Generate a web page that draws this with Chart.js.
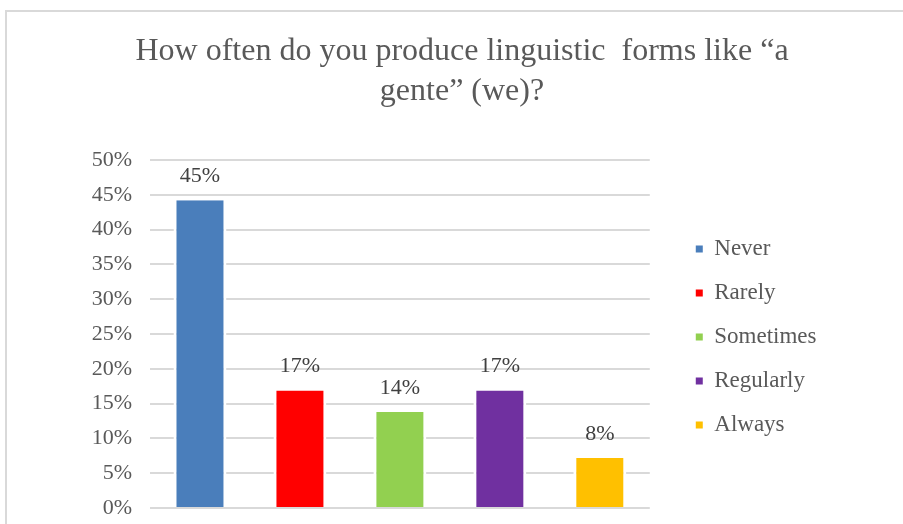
<!DOCTYPE html>
<html>
<head>
<meta charset="utf-8">
<script src="https://cdn.jsdelivr.net/npm/chart.js@4/dist/chart.umd.min.js"></script>
<style>
  html, body { margin: 0; padding: 0; background: #fff; overflow: hidden; }
  #wrap { position: relative; width: 903px; height: 524px; overflow: hidden; }
  #frame { position: absolute; left: 5px; top: 10px; width: 1000px; height: 700px; border: 2px solid #d9d9d9; box-sizing: border-box; }
  #c { position: absolute; left: 0; top: 0; }
</style>
</head>
<body>
<div id="wrap">
  <div id="frame"></div>
  <canvas id="c" width="903" height="524"></canvas>
</div>
<script>
const titleLines = ['How often do you produce linguistic  forms like \u201ca', 'gente\u201d (we)?'];
const categories = ['Never', 'Rarely', 'Sometimes', 'Regularly', 'Always'];
const values = [44.2, 16.9, 13.8, 16.9, 7.2];
const valueLabels = ['45%', '17%', '14%', '17%', '8%'];
const colors = ['#4a7ebb', '#ff0000', '#92d050', '#7030a0', '#ffc000'];
const yTicks = [0, 5, 10, 15, 20, 25, 30, 35, 40, 45, 50];

const SERIF = '"Liberation Serif", "Times New Roman", serif';
const TEXT = '#595959';

const barLabels = {
  id: 'barLabels',
  afterDatasetsDraw(chart) {
    const ctx = chart.ctx;
    const meta = chart.getDatasetMeta(0);
    ctx.save();
    ctx.font = '22px ' + SERIF;
    ctx.fillStyle = '#404040';
    ctx.textAlign = 'center';
    ctx.textBaseline = 'alphabetic';
    meta.data.forEach((bar, i) => {
      ctx.fillText(valueLabels[i], bar.x, bar.y - 18);
    });
    ctx.restore();
  }
};

new Chart(document.getElementById('c'), {
  type: 'bar',
  data: {
    labels: categories,
    datasets: [{
      data: values,
      backgroundColor: colors,
      borderColor: '#ffffff',
      borderWidth: { top: 0, bottom: 0, left: 3, right: 3 },
      borderSkipped: false,
      categoryPercentage: 1,
      barPercentage: 0.53
    }]
  },
  options: {
    responsive: false,
    animation: false,
    devicePixelRatio: 1,
    layout: { padding: { left: 80, right: 59, top: 0, bottom: 16 } },
    plugins: {
      title: {
        display: true,
        text: titleLines,
        color: TEXT,
        font: { family: SERIF, size: 32, weight: 'normal', lineHeight: 1.25 },
        padding: { top: 31.2, bottom: 48.8 }
      },
      legend: {
        display: true,
        position: 'right',
        fullSize: false,
        maxWidth: 220,
        onClick: null,
        title: { display: true, text: ' ', font: { size: 5, lineHeight: 1.2 }, padding: 0 },
        labels: {
          boxWidth: 7,
          boxHeight: 7,
          padding: 21,
          color: TEXT,
          font: { family: SERIF, size: 23 },
          generateLabels: () => categories.map((c, i) => ({
            text: c,
            fillStyle: colors[i],
            strokeStyle: colors[i],
            lineWidth: 0,
            hidden: false,
            index: i,
            fontColor: TEXT
          }))
        }
      },
      tooltip: { enabled: false }
    },
    scales: {
      x: {
        display: false,
        grid: { display: false }
      },
      y: {
        min: 0,
        max: 50,
        afterBuildTicks: s => { s.ticks = yTicks.map(v => ({ value: v })); },
        afterFit: s => { s.width = 70; },
        border: { display: false },
        grid: { color: '#d9d9d9', lineWidth: 2, drawTicks: true, tickLength: 18, tickColor: 'rgba(0,0,0,0)' },
        ticks: {
          padding: 0,
          color: TEXT,
          font: { family: SERIF, size: 22 },
          callback: v => v + '%'
        }
      },
      gap: {
        type: 'linear',
        position: 'right',
        display: true,
        weight: 0,
        grid: { display: false, drawTicks: false },
        border: { display: false },
        ticks: { display: false },
        afterFit: s => { s.width = 25; }
      },
      outer: {
        type: 'linear',
        position: 'right',
        display: true,
        weight: 1500,
        grid: { display: false, drawTicks: false },
        border: { display: false },
        ticks: { display: false },
        afterFit: s => { s.width = 17.5; }
      }
    }
  },
  plugins: [barLabels]
});
</script>
</body>
</html>
